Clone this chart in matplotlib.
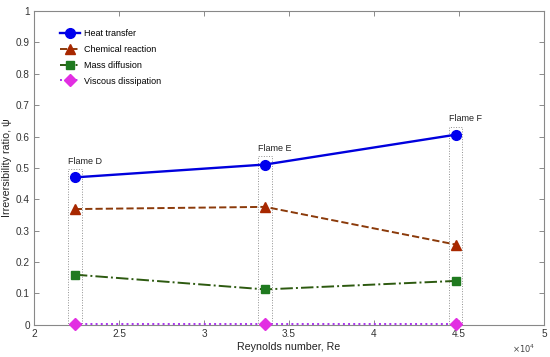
import matplotlib

matplotlib.use("Agg")
import matplotlib.pyplot as plt
from matplotlib.patches import Rectangle

plt.rcParams["font.family"] = ["Liberation Sans", "DejaVu Sans"]

# Sandia flames D, E, F
flames = ["Flame D", "Flame E", "Flame F"]
reynolds = [22400, 33600, 44800]
heat_transfer = [0.470, 0.511, 0.606]
chemical_reaction = [0.369, 0.376, 0.256]
mass_diffusion = [0.160, 0.113, 0.140]
viscous_dissipation = [0.002, 0.002, 0.002]

x_ticks = [20000, 25000, 30000, 35000, 40000, 45000, 50000]
x_ticklabels = ["2", "2.5", "3", "3.5", "4", "4.5", "5"]
y_ticks = [0, 0.1, 0.2, 0.3, 0.4, 0.5, 0.6, 0.7, 0.8, 0.9, 1]
y_ticklabels = ["0", "0.1", "0.2", "0.3", "0.4", "0.5", "0.6", "0.7", "0.8", "0.9", "1"]

fig = plt.figure(figsize=(5.5, 3.57), dpi=100)
ax = fig.add_axes([0.062, 0.09, 0.927, 0.879])

# dotted boxes around each flame column
box_half = 400
box_pad = 0.026
for name, re, top in zip(flames, reynolds, heat_transfer):
    ax.add_patch(Rectangle((re - box_half, 0), 2 * box_half, top + box_pad,
                           fill=False, ls=":", lw=0.7, ec="#909090", zorder=1))
    ax.text(re - box_half, top + box_pad + 0.01, name, fontsize=6.5,
            ha="left", va="bottom", color="#222222")

ax.plot(reynolds, heat_transfer, "-o", color="#0000dd", lw=1.7, ms=7,
        mfc="#0000ee", mec="#0000ee", label="Heat transfer", zorder=4)
ax.plot(reynolds, chemical_reaction, "--^", color="#8b3a0a", lw=1.4, ms=7.5,
        mfc="#a82800", mec="#a82800", label="Chemical reaction", zorder=4)
ax.plot(reynolds, mass_diffusion, "-.s", color="#2d5a10", lw=1.4, ms=6,
        mfc="#1f7a1f", mec="#1f7a1f", label="Mass diffusion", zorder=4)
ax.plot(reynolds, viscous_dissipation, ":D", color="#aa33ee", lw=1.4, ms=6,
        mfc="#e22ee2", mec="#e22ee2", label="Viscous dissipation", zorder=4,
        clip_on=False)

ax.set_xlim(20000, 50000)
ax.set_ylim(0, 1)
ax.set_xticks(x_ticks)
ax.set_xticklabels(x_ticklabels)
ax.set_yticks(y_ticks)
ax.set_yticklabels(y_ticklabels)
ax.text(0.983, -0.077, r"$\times10^4$", transform=ax.transAxes, fontsize=6,
        color="#444444", ha="right", va="center")

ax.tick_params(direction="in", top=True, right=True, length=3.5, width=0.6,
               colors="#777777", labelcolor="#333333", labelsize=7.2, pad=3)
for sp in ax.spines.values():
    sp.set_color("#888888")
    sp.set_linewidth(0.8)

ax.set_xlabel("Reynolds number, Re", fontsize=7.7, color="#222222", labelpad=2)
ax.set_ylabel("Irreversibility ratio, \u03c8", fontsize=7.7, color="#222222",
              labelpad=3)

ax.legend(loc="upper left", bbox_to_anchor=(0.035, 0.968), frameon=False,
          fontsize=6.5, handlelength=2.2, labelspacing=0.75, handletextpad=0.4)

fig.savefig("out.png", dpi=100)
